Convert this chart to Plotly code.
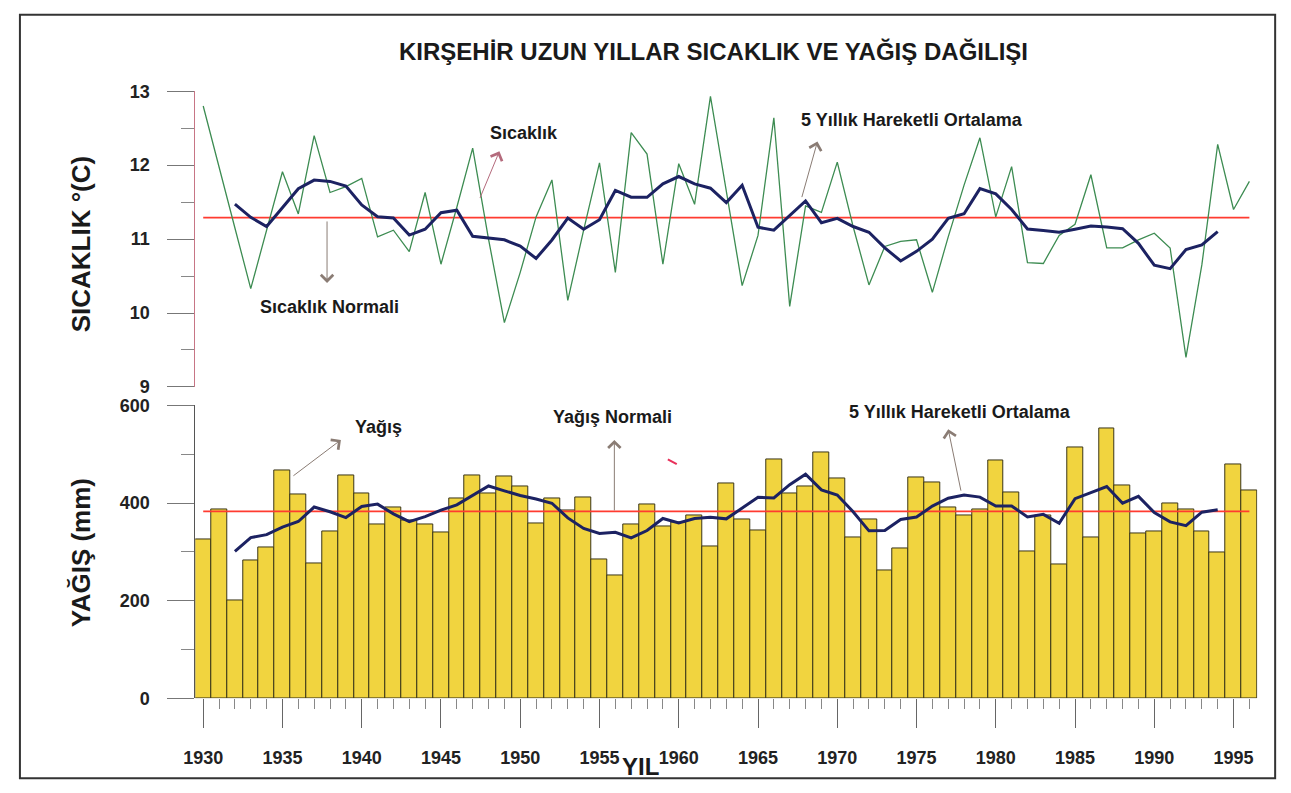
import plotly.graph_objects as go
import pandas as pd

# Kırşehir annual observations, 1930-1996
years = list(range(1930, 1997))

temperature = [
    12.80, 11.96, 11.15, 10.33, 11.12, 11.91, 11.34, 12.40, 11.63, 11.71,
    11.82, 11.03, 11.12, 10.83, 11.63, 10.66, 11.43, 12.23, 11.00, 9.87,
    10.55, 11.30, 11.80, 10.17, 11.12, 12.03, 10.55, 12.44, 12.15, 10.66,
    12.02, 11.47, 12.93, 11.65, 10.37, 11.05, 12.64, 10.09, 11.45, 11.36,
    12.04, 11.17, 10.38, 10.90, 10.97, 10.99, 10.28, 11.03, 11.73, 12.37,
    11.30, 11.98, 10.68, 10.67, 11.05, 11.20, 11.87, 10.88, 10.88, 10.99,
    11.08, 10.88, 9.40, 10.65, 12.28, 11.40, 11.78,
]

precipitation = [
    325, 387, 200, 283, 309, 467, 417, 277, 341, 457,
    419, 357, 391, 365, 357, 339, 409, 457, 420, 455,
    434, 359, 409, 385, 411, 284, 251, 357, 397, 353,
    360, 375, 312, 441, 367, 343, 489, 419, 434, 503,
    450, 329, 367, 262, 307, 453, 443, 391, 375, 387,
    487, 421, 300, 375, 275, 513, 330, 552, 437, 337,
    342, 400, 387, 341, 299, 479, 425,
]

temp_normal = 11.29
precip_normal = 383

temp_ticks = [9, 10, 11, 12, 13]
precip_ticks = [0, 200, 400, 600]
year_ticks = list(range(1930, 1996, 5))

# centred 5-year moving averages
temp_ma = pd.Series(temperature).rolling(5, center=True).mean().tolist()
precip_ma = pd.Series(precipitation).rolling(5, center=True).mean().tolist()

W, H = 1291, 793
FONT = "Liberation Sans Narrow, Arial Narrow, Liberation Sans, Arial, sans-serif"


def px(x, y):
    return x / W, 1 - y / H


fig = go.Figure()

# bottom panel: precipitation
fig.add_trace(go.Bar(
    x=years, y=precipitation, width=1,
    marker=dict(color="#F1D43F", line=dict(color="#3b3618", width=1)),
    xaxis="x", yaxis="y", showlegend=False,
))
fig.add_trace(go.Scatter(
    x=[years[0], years[-1]], y=[precip_normal, precip_normal], mode="lines",
    line=dict(color="#FF3B30", width=1.6), xaxis="x", yaxis="y", showlegend=False,
))
fig.add_trace(go.Scatter(
    x=years, y=precip_ma, mode="lines",
    line=dict(color="#1C2262", width=3), xaxis="x", yaxis="y", showlegend=False,
))

# top panel: temperature
fig.add_trace(go.Scatter(
    x=[years[0], years[-1]], y=[temp_normal, temp_normal], mode="lines",
    line=dict(color="#FF3B30", width=1.6), xaxis="x2", yaxis="y2", showlegend=False,
))
fig.add_trace(go.Scatter(
    x=years, y=temperature, mode="lines",
    line=dict(color="#3D8C52", width=1.3), xaxis="x2", yaxis="y2", showlegend=False,
))
fig.add_trace(go.Scatter(
    x=years, y=temp_ma, mode="lines",
    line=dict(color="#1C2262", width=3), xaxis="x2", yaxis="y2", showlegend=False,
))

xdom = [185 / W, 1257 / W]
tickfont = dict(family=FONT, size=18, color="#222", weight="bold")

fig.update_layout(
    width=W, height=H,
    margin=dict(l=0, r=0, t=0, b=0),
    paper_bgcolor="white", plot_bgcolor="rgba(0,0,0,0)",
    bargap=0,
    xaxis=dict(
        domain=xdom, range=[1929.5, 1996.5], anchor="y",
        tickvals=year_ticks, ticks="outside", ticklen=29, tickwidth=1,
        tickcolor="#666", ticklabelstandoff=14,
        minor=dict(dtick=1, tick0=1930, ticks="outside", ticklen=10,
                   tickcolor="#888", tickwidth=1),
        showline=False, showgrid=False, zeroline=False, tickfont=tickfont,
    ),
    xaxis2=dict(
        domain=xdom, range=[1929.5, 1996.5], anchor="y2", visible=False,
    ),
    yaxis=dict(
        domain=[px(0, 706)[1], px(0, 405.7)[1]], range=[0, 600],
        tickvals=precip_ticks, ticks="outside", ticklen=27, tickcolor="#777",
        minor=dict(dtick=100, ticks="outside", ticklen=13, tickcolor="#888"),
        showline=True, linecolor="#555", linewidth=1,
        showgrid=False, zeroline=False, tickfont=tickfont,
        ticklabelstandoff=14,
    ),
    yaxis2=dict(
        domain=[px(0, 386.7)[1], px(0, 83.3)[1]], range=[9, 13],
        tickvals=temp_ticks, ticks="outside", ticklen=27, tickcolor="#777",
        minor=dict(dtick=0.5, ticks="outside", ticklen=13, tickcolor="#888"),
        showline=True, linecolor="#C77585", linewidth=1,
        showgrid=False, zeroline=False, tickfont=tickfont,
        ticklabelstandoff=14,
    ),
)

annotations = []


def label(text, x, y, size=18, angle=0):
    ax_, ay_ = px(x, y)
    annotations.append(dict(
        text=text, x=ax_, y=ay_, xref="paper", yref="paper",
        showarrow=False, textangle=angle,
        font=dict(family=FONT, size=size, color="#1a1a1a", weight="bold"),
        xanchor="center", yanchor="middle",
    ))


def arrow(tail, head, color="#8a7c74"):
    # head position in paper units, tail as a pixel offset from the head
    hx, hy = px(*head)
    annotations.append(dict(
        text="", x=hx, y=hy, ax=tail[0] - head[0], ay=tail[1] - head[1],
        xref="paper", yref="paper", axref="pixel", ayref="pixel",
        showarrow=True, arrowhead=4, arrowsize=2.4, arrowwidth=1,
        arrowcolor=color,
    ))


label("KIRŞEHİR UZUN YILLAR SICAKLIK VE YAĞIŞ DAĞILIŞI", 708, 43, size=24)
label("SICAKLIK °(C)", 70, 240, size=26, angle=-90)
label("YAĞIŞ (mm)", 70, 557, size=26, angle=-90)
label("YIL", 634, 776, size=24)

label("Sıcaklık", 517, 126)
arrow((472, 193), (492, 145), color="#B46A7C")
label("5 Yıllık Hareketli Ortalama", 908, 113)
arrow((797, 192), (813, 135))
label("Sıcaklık Normali", 320, 305)
arrow((318, 217), (318, 280))

label("Yağış", 370, 428)
arrow((283, 478), (332, 441))
label("Yağış Normali", 606, 418)
arrow((608, 513), (608, 441))
label("5 Yıllık Hareketli Ortalama", 957, 412)
arrow((958, 493), (945, 430))

fig.update_layout(annotations=annotations)

# outer frame and a small red pen stroke
x0, y0 = px(8, 5)
x1, y1 = px(1275, 788)
fig.add_shape(type="rect", xref="paper", yref="paper",
              x0=x0, y0=y1, x1=x1, y1=y0,
              line=dict(color="#333", width=2))
sx0, sy0 = px(662, 461)
sx1, sy1 = px(671, 466)
fig.add_shape(type="line", xref="paper", yref="paper",
              x0=sx0, y0=sy0, x1=sx1, y1=sy1,
              line=dict(color="#E8305A", width=2))

fig.write_html("out.html")
